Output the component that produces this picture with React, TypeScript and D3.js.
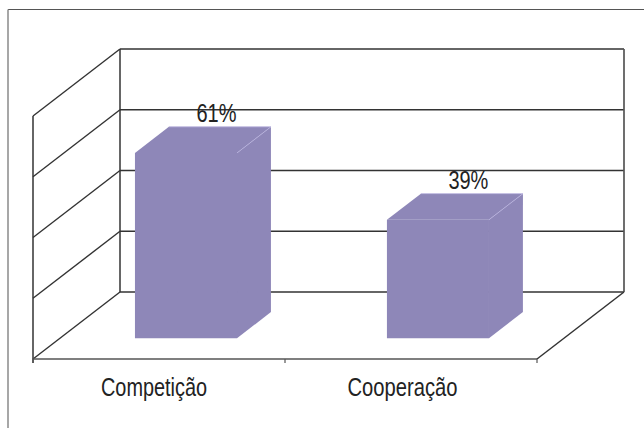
import React from "react";
import * as d3 from "d3";

// Chart data
const categories: string[] = ["Competição", "Cooperação"];
const shares: number[] = [61, 39];
const valueLabels: string[] = ["61%", "39%"];
const gridValues: number[] = [0, 20, 40, 60, 80];

const WIDTH = 644;
const HEIGHT = 428;

// Oblique 3D projection: depth offset of the back wall relative to the front plane
const DX = 87;
const DY = 67;
const BAR_FRONT = 0.31; // bar front face depth (fraction of full depth)
const BAR_DEPTH = 0.39; // bar thickness in depth

const FILL = "#8E87B8";
const EDGE = "#B9B2DE";
const LINE = "#333333";
const FONT = "'Liberation Sans Narrow', 'Arial Narrow', 'Liberation Sans', Arial, sans-serif";
const FONT_SIZE = 26.5;

export default function App() {
  // Front-plane scales
  const x = d3
    .scaleBand<string>()
    .domain(categories)
    .range([33, 537])
    .paddingInner(0.595)
    .paddingOuter(0.2976);
  const xCat = d3.scaleBand<string>().domain(categories).range([33, 537]);
  const y = d3.scaleLinear().domain([0, 80]).range([359, 116]);

  const proj = (px: number, v: number, d: number): [number, number] => [
    px + DX * d,
    y(v) - DY * d,
  ];
  const pts = (arr: [number, number][]) => arr.map((p) => p.join(",")).join(" ");

  const backLeft = proj(33, 0, 1)[0];
  const backRight = proj(537, 0, 1)[0];

  return (
    <svg
      width={WIDTH}
      height={HEIGHT}
      style={{ position: "absolute", left: 0, top: 0, display: "block", background: "#fff" }}
    >
      {/* outer chart frame */}
      <line x1={8} y1={9.5} x2={WIDTH} y2={9.5} stroke="#555" strokeWidth={1.2} />
      <line x1={8} y1={9.5} x2={8} y2={HEIGHT} stroke="#8a8a8a" strokeWidth={1.5} />

      {/* back wall gridlines */}
      {gridValues.map((v) => {
        const [x0, y0] = proj(33, v, 1);
        return (
          <line key={"bg" + v} x1={x0} y1={y0} x2={backRight} y2={y0} stroke={LINE} strokeWidth={1.5} />
        );
      })}
      {/* side wall diagonals */}
      {gridValues.map((v) => {
        const [x0, y0] = proj(33, v, 0);
        const [x1, y1] = proj(33, v, 1);
        return <line key={"sg" + v} x1={x0} y1={y0} x2={x1} y2={y1} stroke={LINE} strokeWidth={1.4} />;
      })}
      {/* wall edges */}
      <line x1={33} y1={y(80)} x2={33} y2={y(0) + 4} stroke={LINE} strokeWidth={1.5} />
      <line x1={backLeft} y1={proj(33, 80, 1)[1]} x2={backLeft} y2={proj(33, 0, 1)[1]} stroke={LINE} strokeWidth={1.5} />
      <line x1={backRight} y1={proj(33, 80, 1)[1]} x2={backRight} y2={proj(33, 0, 1)[1]} stroke="#555" strokeWidth={1.7} />
      {/* floor */}
      <line x1={33} y1={y(0)} x2={537} y2={y(0)} stroke="#555" strokeWidth={1.5} />
      <line x1={537} y1={y(0)} x2={backRight} y2={proj(537, 0, 1)[1]} stroke={LINE} strokeWidth={1.5} />
      {/* category ticks */}
      {[33, ...categories.map((c) => (xCat(c) as number) + xCat.bandwidth())].map((t) => (
        <line key={"t" + t} x1={t} y1={y(0)} x2={t} y2={y(0) + 4} stroke="#555" strokeWidth={1.2} />
      ))}

      {/* bars */}
      {categories.map((c, i) => {
        const v = shares[i];
        const x0 = x(c) as number;
        const x1 = x0 + x.bandwidth();
        const d0 = BAR_FRONT;
        const d1 = BAR_FRONT + BAR_DEPTH;
        const fBL = proj(x0, 0, d0);
        const fBR = proj(x1, 0, d0);
        const fTL = proj(x0, v, d0);
        const fTR = proj(x1, v, d0);
        const bTL = proj(x0, v, d1);
        const bTR = proj(x1, v, d1);
        const bBR = proj(x1, 0, d1);
        return (
          <g key={c}>
            <polygon points={pts([fBL, fBR, fTR, fTL])} fill={FILL} />
            <polygon points={pts([fTL, fTR, bTR, bTL])} fill={FILL} />
            <polygon points={pts([fBR, bBR, bTR, fTR])} fill={FILL} />
            <line x1={fTR[0]} y1={fTR[1]} x2={bTR[0]} y2={bTR[1]} stroke={EDGE} strokeWidth={0.8} />
            <line x1={bTL[0]} y1={bTL[1]} x2={bTR[0]} y2={bTR[1]} stroke={EDGE} strokeWidth={0.8} />
            <text
              x={(bTL[0] + bTR[0]) / 2 - 3.5}
              y={bTL[1] - 5}
              textAnchor="middle"
              fontFamily={FONT}
              fontSize={FONT_SIZE}
              fill="#222"
              textLength={40}
              lengthAdjust="spacingAndGlyphs"
            >
              {valueLabels[i]}
            </text>
          </g>
        );
      })}

      {/* category labels */}
      {categories.map((c, i) => (
        <text
          key={"l" + c}
          x={(xCat(c) as number) + xCat.bandwidth() / 2 - (i === 0 ? 5 : 8.5)}
          y={396}
          textAnchor="middle"
          fontFamily={FONT}
          fontSize={FONT_SIZE}
          fill="#222"
          textLength={i === 0 ? 106 : 110}
          lengthAdjust="spacingAndGlyphs"
        >
          {c}
        </text>
      ))}
    </svg>
  );
}
